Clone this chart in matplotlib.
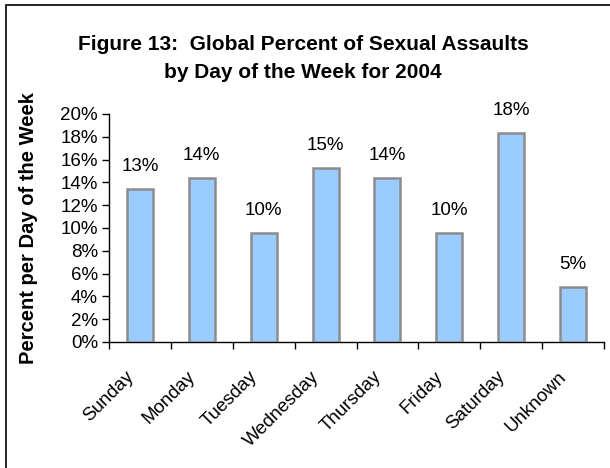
import matplotlib
matplotlib.use("Agg")
import matplotlib.pyplot as plt
from matplotlib.patches import Rectangle
from matplotlib.ticker import FuncFormatter
from matplotlib.transforms import ScaledTranslation

days = ["Sunday", "Monday", "Tuesday", "Wednesday", "Thursday", "Friday", "Saturday", "Unknown"]
percents = [13.4, 14.4, 9.6, 15.3, 14.4, 9.6, 18.3, 4.8]
labels = ["13%", "14%", "10%", "15%", "14%", "10%", "18%", "5%"]

plt.rcParams['font.family'] = ['Liberation Sans', 'DejaVu Sans']

fig = plt.figure(figsize=(6.1, 4.68), dpi=100)
ax = fig.add_axes([109/610, 1-342/468, (604-109)/610, (342-114)/468])

x = list(range(len(days)))
ax.bar(x, percents, width=0.42, color="#99CCFF", edgecolor="#8C8C8C", linewidth=1.8, zorder=3)
for xi, v, lab in zip(x, percents, labels):
    ax.annotate(lab, (xi, v), xytext=(0, 10), textcoords="offset points",
                ha="center", va="bottom", fontsize=13.5)

ax.set_xlim(-0.5, len(days) - 0.5)
ax.set_ylim(0, 20)
ax.set_yticks(range(0, 21, 2))
ax.yaxis.set_major_formatter(FuncFormatter(lambda v, p: f"{int(v)}%"))
ax.set_xticks([i - 0.5 for i in range(len(days) + 1)])
ax.set_xticklabels([])
ax.set_xticks(x, minor=True)
ax.set_xticklabels(days, minor=True, rotation=45, ha="right", va="center",
                   rotation_mode="anchor", fontsize=13.5)
ax.tick_params(axis="x", which="minor", length=0, pad=23)
ax.tick_params(axis="x", which="major", length=5, width=1, direction="out")
ax.tick_params(axis="y", length=5, width=1, direction="out", labelsize=13.5, pad=3)
shift = ScaledTranslation(-9/100, 0, fig.dpi_scale_trans)
for t in ax.get_xticklabels(minor=True):
    t.set_transform(t.get_transform() + shift)
for s in ["top", "right"]:
    ax.spines[s].set_visible(False)
for s in ["left", "bottom"]:
    ax.spines[s].set_linewidth(1)

ax.set_ylabel("Percent per Day of the Week", fontsize=14.5, fontweight="bold", labelpad=16)

fig.text(0.497, 1-44/468, "Figure 13:  Global Percent of Sexual Assaults", ha="center", va="center",
         fontsize=15, fontweight="bold")
fig.text(0.497, 1-72/468, "by Day of the Week for 2004", ha="center", va="center",
         fontsize=15, fontweight="bold")

fig.patches.append(Rectangle((6/610, -0.01), 1.0, 1 - 5/468 + 0.01, transform=fig.transFigure,
                             fill=False, edgecolor="black", linewidth=1.2))

fig.savefig("out.png", dpi=100)
